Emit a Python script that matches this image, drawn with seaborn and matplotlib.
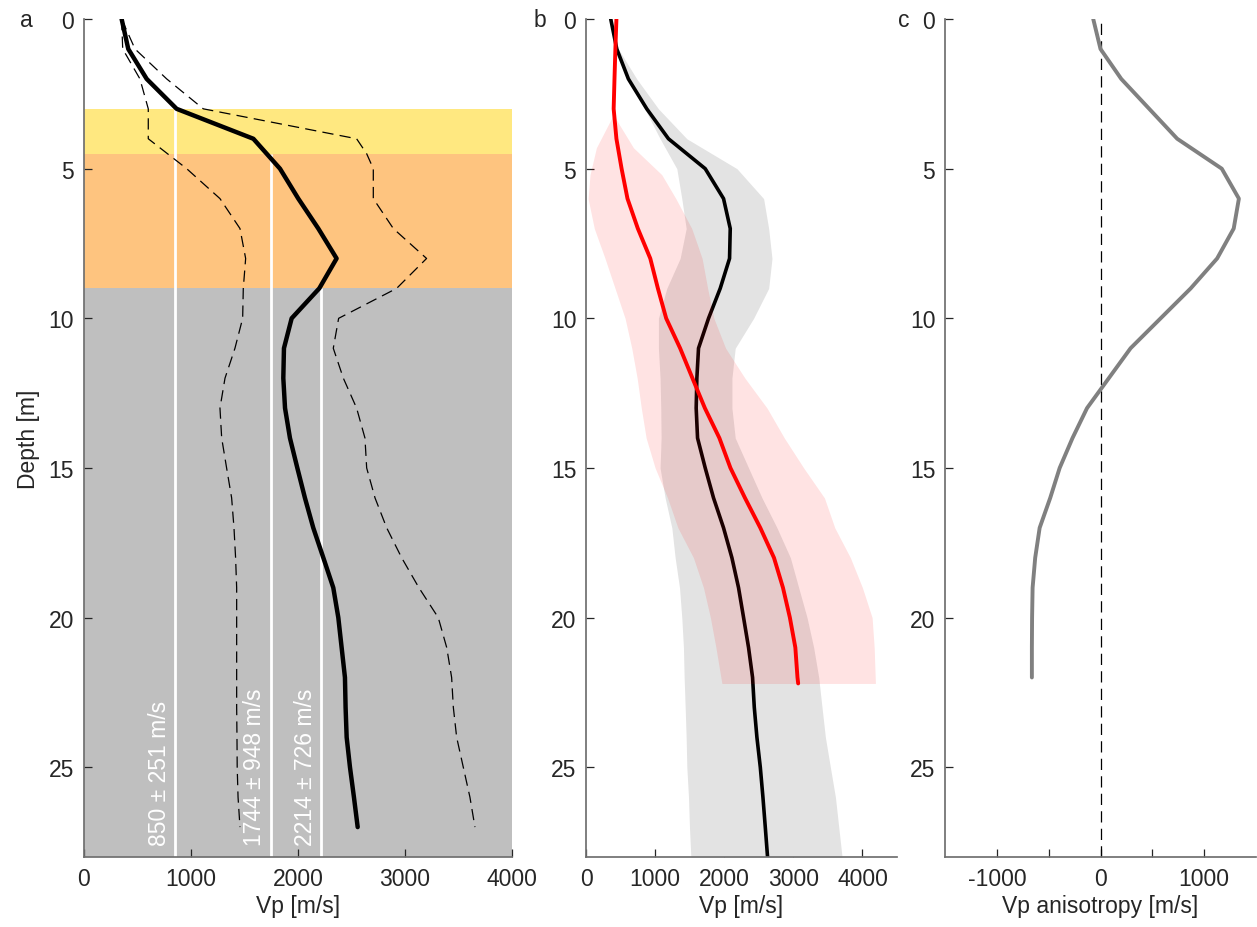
import numpy as np
import pandas as pd
import seaborn as sns
import matplotlib.pyplot as plt

# ---- data ----
depth_a = list(range(0, 28))
vp_mean_a = [352, 414, 586, 866, 1583, 1832, 2003, 2190, 2361, 2199,
             1941, 1869, 1863, 1879, 1925, 1994, 2065, 2143, 2237, 2330,
             2377, 2408, 2439, 2445, 2455, 2486, 2523, 2558]
vp_low_a = [352, 362, 523, 601, 601, 960, 1271, 1458, 1511, 1489,
            1483, 1411, 1318, 1271, 1287, 1333, 1380, 1402, 1417, 1427,
            1427, 1427, 1427, 1427, 1430, 1432, 1440, 1458]
depth_up_a = [0, 1, 2, 3, 4, 4.5, 5, 6, 7, 8, 9, 10, 11, 12, 13, 14, 15,
              16, 17, 18, 19, 20, 21, 22, 23, 24, 25, 26, 27]
vp_up_a = [352, 477, 773, 1115, 2548, 2642, 2704, 2704, 2891, 3202, 2922,
           2380, 2330, 2424, 2548, 2626, 2642, 2720, 2829, 2969, 3130,
           3311, 3390, 3436, 3452, 3483, 3545, 3607, 3654]

layer_top = [3, 4.5, 9]
layer_bottom = [4.5, 9, 28]
layer_colors = ["#FFE880", "#FEC47F", "#BFBFBF"]
layer_vp = [850, 1744, 2214]
layer_labels = ["850 ± 251 m/s", "1744 ± 948 m/s", "2214 ± 726 m/s"]

depth_b = list(range(0, 29))
vp_black_b = [358, 445, 613, 879, 1193, 1725, 1990, 2087, 2077, 1942,
              1773, 1628, 1604, 1594, 1614, 1725, 1845, 1990, 2111, 2207,
              2280, 2352, 2410, 2435, 2473, 2522, 2560, 2594, 2627]
gray_lo_b = [358, 430, 600, 850, 1072, 1314, 1386, 1450, 1362, 1169,
             1048, 1048, 1072, 1082, 1087, 1072, 1145, 1242, 1290, 1353,
             1386, 1410, 1420, 1435, 1449, 1459, 1483, 1497, 1517]
gray_hi_b = [358, 468, 734, 1048, 1459, 2184, 2570, 2643, 2691, 2643,
             2425, 2159, 2111, 2111, 2159, 2352, 2546, 2763, 2957, 3077,
             3198, 3294, 3367, 3415, 3464, 3536, 3609, 3657, 3705]

depth_red = [0, 1, 2, 3, 4, 5, 6, 7, 8, 9, 10, 11, 12, 13, 14, 15, 16,
             17, 18, 19, 20, 21, 22, 22.2]
vp_red = [440, 425, 412, 400, 440, 515, 600, 750, 930, 1040, 1160, 1362,
          1540, 1720, 1930, 2090, 2300, 2522, 2720, 2850, 2950, 3029, 3060,
          3070]
depth_pink = [3.2, 4.3, 5.2, 6, 7, 8, 9, 10, 11, 12, 13, 14, 15, 16, 17,
              18, 19, 20, 21, 22.2]
pink_lo = [396, 150, 58, 30, 120, 275, 420, 565, 662, 740, 800, 870, 1000,
           1180, 1330, 1555, 1700, 1800, 1880, 1966]
pink_hi = [396, 686, 1096, 1300, 1530, 1680, 1760, 1850, 2020, 2300, 2620,
           2870, 3150, 3450, 3600, 3826, 4000, 4140, 4170, 4188]

depth_c = list(range(0, 23))
vp_aniso = [-70, 0, 200, 470, 740, 1170, 1335, 1285, 1125, 870, 580, 290,
            80, -130, -270, -394, -485, -587, -630, -655, -660, -662, -662]

# ---- style ----
sns.set_theme(style="ticks")
plt.rcParams["font.family"] = ["Liberation Sans", "DejaVu Sans"]
fs = 16.5
plt.rcParams.update({
    "font.size": fs,
    "text.color": "#262626",
    "axes.labelcolor": "#262626",
    "xtick.color": "#262626",
    "ytick.color": "#262626",
    "xtick.labelcolor": "#262626",
    "ytick.labelcolor": "#262626",
    "axes.edgecolor": "#707070",
    "xtick.direction": "in",
    "ytick.direction": "in",
    "xtick.major.size": 6,
    "ytick.major.size": 6,
    "xtick.major.width": 0.9,
    "ytick.major.width": 0.9,
    "xtick.labelsize": fs,
    "ytick.labelsize": fs,
    "axes.labelsize": fs,
})

fig = plt.figure(figsize=(12.57, 9.28), dpi=100)
ax_a = fig.add_axes([0.0668, 0.0754, 0.3405, 0.9030])
ax_b = fig.add_axes([0.4662, 0.0754, 0.2474, 0.9030])
ax_c = fig.add_axes([0.7518, 0.0754, 0.2474, 0.9030])

dash = [9, 5]

# ---- panel a ----
for top, bot, col in zip(layer_top, layer_bottom, layer_colors):
    ax_a.axhspan(top, bot, color=col, lw=0, zorder=0)
for v, top, lab in zip(layer_vp, layer_top, layer_labels):
    ax_a.vlines(v, top, 28, color="white", lw=2, zorder=1)
    ax_a.text(v - 40, 27.6, lab, rotation=90, ha="right", va="bottom",
              color="white", fontsize=fs, zorder=2)

sns.lineplot(x=vp_low_a, y=depth_a, ax=ax_a, sort=False, estimator=None,
             color="black", lw=0.9, zorder=3)
ax_a.lines[-1].set_dashes(dash)
sns.lineplot(x=vp_up_a, y=depth_up_a, ax=ax_a, sort=False, estimator=None,
             color="black", lw=0.9, zorder=3)
ax_a.lines[-1].set_dashes(dash)
sns.lineplot(x=vp_mean_a, y=depth_a, ax=ax_a, sort=False, estimator=None,
             color="black", lw=3.2, zorder=4)
ax_a.set_xlim(0, 4000)
ax_a.set_xticks([0, 1000, 2000, 3000, 4000])
ax_a.set_xlabel("Vp [m/s]", labelpad=3)
ax_a.set_ylabel("Depth [m]", labelpad=6)

# ---- panel b ----
ax_b.fill_betweenx(depth_b, gray_lo_b, gray_hi_b, color="#E3E3E3", lw=0,
                   zorder=1)
sns.lineplot(x=vp_black_b, y=depth_b, ax=ax_b, sort=False, estimator=None,
             color="black", lw=2.6, zorder=2)
ax_b.fill_betweenx(depth_pink, pink_lo, pink_hi, color="red", alpha=0.11,
                   lw=0, zorder=3)
sns.lineplot(x=vp_red, y=depth_red, ax=ax_b, sort=False, estimator=None,
             color="red", lw=2.8, zorder=4)
ax_b.set_xlim(0, 4500)
ax_b.set_xticks([0, 1000, 2000, 3000, 4000])
ax_b.set_xlabel("Vp [m/s]", labelpad=3)
ax_b.set_ylabel("")

# ---- panel c ----
ax_c.axvline(0, color="black", lw=0.9, dashes=dash, zorder=1)
sns.lineplot(x=vp_aniso, y=depth_c, ax=ax_c, sort=False, estimator=None,
             color="#808080", lw=2.8, zorder=2)
ax_c.set_xlim(-1500, 1500)
ax_c.set_xticks([-1000, -500, 0, 500, 1000])
ax_c.set_xticklabels(["-1000", "", "0", "", "1000"])
ax_c.set_xlabel("Vp anisotropy [m/s]", labelpad=3)
ax_c.set_ylabel("")

for ax, letter, off in zip([ax_a, ax_b, ax_c], ["a", "b", "c"],
                           [-0.15, -0.17, -0.15]):
    ax.set_ylim(28, 0)
    ax.set_yticks([0, 5, 10, 15, 20, 25])
    ax.tick_params(axis="both", pad=7)
    ax.spines["top"].set_visible(False)
    ax.spines["right"].set_visible(False)
    ax.set_facecolor("none")
    ax.text(off, 1.0, letter, transform=ax.transAxes, ha="left",
            va="center", fontsize=fs)

fig.savefig("out.png", dpi=100)
